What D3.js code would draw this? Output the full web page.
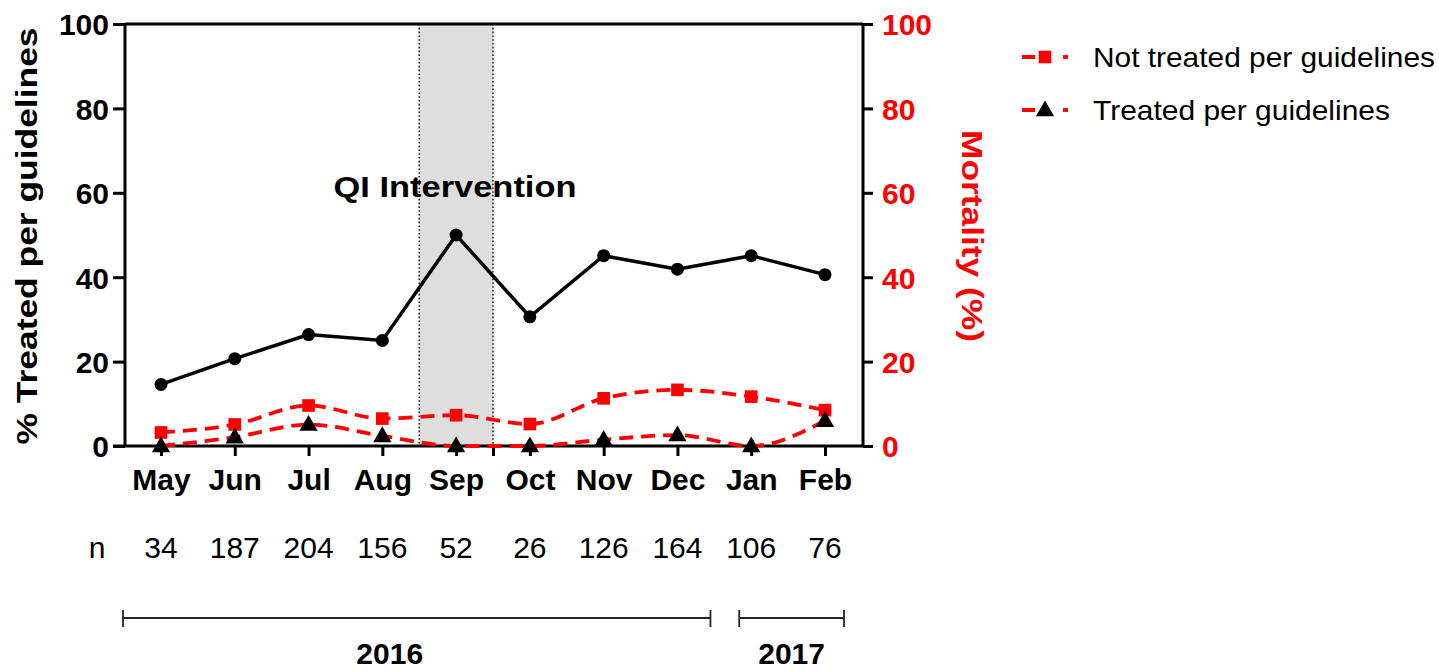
<!DOCTYPE html>
<html><head><meta charset="utf-8">
<script src="https://cdn.jsdelivr.net/npm/d3@7"></script>
<style>body{margin:0;background:#fff}svg{display:block}</style>
</head><body>
<svg id="c" width="1439" height="672"></svg>
<script>
const months = ["May","Jun","Jul","Aug","Sep","Oct","Nov","Dec","Jan","Feb"];
const nCounts = [34,187,204,156,52,26,126,164,106,76];
const treatedPct = [14.6,20.7,26.4,25.0,50.0,30.6,45.1,41.9,45.1,40.6];
const mortNotTreated = [3.2,5.1,9.6,6.5,7.3,5.2,11.3,13.3,11.7,8.5];
const mortTreated = [0,2.1,5.1,2.4,0,0,1.5,2.6,0,6.0];
const yTicks = [0,20,40,60,80,100];
const years = [{label:"2016",from:0,to:7},{label:"2017",from:8,to:9}];
const interventionSpan = [3.5,4.5];
const seriesNames = ["Not treated per guidelines","Treated per guidelines"];

const RED = "#f00";
const svg = d3.select("#c");
const L = 125, R = 863, T = 24, B = 446;
const x = d3.scaleLinear().domain([0,9]).range([161,825]);
const yL = d3.scaleLinear().domain([0,100]).range([B,T]);
const yR = d3.scaleLinear().domain([0,100]).range([B,T]);
const boldFont = "'Liberation Sans', Arial, Helvetica, sans-serif";

// shaded intervention
svg.append("rect").attr("x",x(interventionSpan[0])).attr("y",T)
  .attr("width",x(interventionSpan[1])-x(interventionSpan[0])).attr("height",B-T)
  .attr("fill","#dedede");
interventionSpan.forEach(v=>{
  svg.append("line").attr("x1",x(v)).attr("x2",x(v)).attr("y1",T).attr("y2",B)
    .attr("stroke","#222").attr("stroke-width",1.6).attr("stroke-dasharray","1.6,2.2");
});

// QI label
svg.append("text").attr("x",455).attr("y",197).attr("text-anchor","middle")
  .attr("font-family",boldFont).attr("font-weight","bold").attr("font-size",30)
  .attr("textLength",243).attr("lengthAdjust","spacingAndGlyphs")
  .text("QI Intervention");

// frame top
svg.append("line").attr("x1",L).attr("x2",R).attr("y1",T).attr("y2",T)
  .attr("stroke","#000").attr("stroke-width",3);

// left axis
const gL = svg.append("g").attr("transform",`translate(${L},0)`)
  .call(d3.axisLeft(yL).tickValues(yTicks).tickSize(12).tickPadding(4).tickFormat(d3.format("d")));
gL.select(".domain").attr("stroke-width",3).attr("d",`M0,${B}V${T}`);
gL.selectAll(".tick line").attr("stroke-width",3);
gL.selectAll(".tick text").attr("font-family",boldFont).attr("font-weight","bold")
  .attr("font-size",30).attr("fill","#000").attr("dy","0.36em");

// right axis
const gR = svg.append("g").attr("transform",`translate(${R},0)`)
  .call(d3.axisRight(yR).tickValues(yTicks).tickSize(10).tickPadding(9).tickFormat(d3.format("d")));
gR.select(".domain").attr("stroke-width",3).attr("d",`M0,${B}V${T}`);
gR.selectAll(".tick line").attr("stroke-width",3);
gR.selectAll(".tick text").attr("font-family",boldFont).attr("font-weight","bold")
  .attr("font-size",30).attr("fill",RED).attr("dy","0.36em");

// bottom axis
const xTickVals = d3.range(months.length).concat([interventionSpan[1]]);
const gB = svg.append("g").attr("transform",`translate(0,${B})`)
  .call(d3.axisBottom(x).tickValues(xTickVals).tickSize(10).tickPadding(6)
    .tickFormat(d=>Number.isInteger(d)?months[d]:""));
gB.select(".domain").attr("stroke-width",3).attr("d",`M${L-12},0H${R}`);
gB.selectAll(".tick line").attr("stroke-width",3);
gB.selectAll(".tick text").attr("font-family",boldFont).attr("font-weight","bold")
  .attr("font-size",30).attr("fill","#000").attr("dy",0).attr("y",44);

// axis titles
svg.append("text").attr("transform","translate(37,236) rotate(-90)").attr("text-anchor","middle")
  .attr("font-family",boldFont).attr("font-weight","bold").attr("font-size",30)
  .attr("textLength",417).attr("lengthAdjust","spacingAndGlyphs")
  .text("%  Treated per guidelines");
svg.append("text").attr("transform","translate(962,236) rotate(90)").attr("text-anchor","middle")
  .attr("font-family",boldFont).attr("font-weight","bold").attr("font-size",30).attr("fill",RED)
  .attr("textLength",212).attr("lengthAdjust","spacingAndGlyphs")
  .text("Mortality (%)");

// red dashed curves
const line = (ys,sc,curve)=>d3.line().x((d,i)=>x(i)).y(d=>sc(d)).curve(curve)(ys);
svg.append("path").attr("d",line(mortNotTreated,yR,d3.curveMonotoneX))
  .attr("fill","none").attr("stroke",RED).attr("stroke-width",3.8).attr("stroke-dasharray","14,8");
svg.append("path").attr("d",line(mortTreated,yR,d3.curveMonotoneX))
  .attr("fill","none").attr("stroke",RED).attr("stroke-width",3.8).attr("stroke-dasharray","14,8");

// black line
svg.append("path").attr("d",line(treatedPct,yL,d3.curveLinear))
  .attr("fill","none").attr("stroke","#000").attr("stroke-width",3.5);
svg.selectAll(".dot").data(treatedPct).join("circle")
  .attr("cx",(d,i)=>x(i)).attr("cy",d=>yL(d)).attr("r",6.5).attr("fill","#000");

// markers
const sq = d3.symbol().type(d3.symbolSquare).size(160);
const tri = d3.symbol().type(d3.symbolTriangle).size(145);
svg.selectAll(".sq").data(mortNotTreated).join("path")
  .attr("d",sq).attr("transform",(d,i)=>`translate(${x(i)},${yR(d)})`).attr("fill",RED);
svg.selectAll(".tri").data(mortTreated).join("path")
  .attr("d",tri).attr("transform",(d,i)=>`translate(${x(i)},${yR(d)+1})`).attr("fill","#000");

// n row
const nFont = "'Liberation Sans Narrow', 'Arial Narrow', 'Liberation Sans', Arial, sans-serif";
svg.append("text").attr("x",97).attr("y",558).attr("text-anchor","middle")
  .attr("font-family",nFont).attr("font-size",30).text("n");
svg.selectAll(".n").data(nCounts).join("text")
  .attr("x",(d,i)=>x(i)).attr("y",558).attr("text-anchor","middle")
  .attr("font-family",nFont).attr("font-size",30).text(d=>d);

// year brackets
const bx0 = i=> i===0 ? x(i)-38 : x(i)-12;
const bx1 = i=> i===9 ? x(i)+19 : x(i)+33;
years.forEach(yr=>{
  const a = bx0(yr.from), b = bx1(yr.to);
  const g = svg.append("g").attr("stroke","#222").attr("stroke-width",1.8);
  g.append("line").attr("x1",a).attr("x2",b).attr("y1",618).attr("y2",618);
  g.append("line").attr("x1",a).attr("x2",a).attr("y1",610).attr("y2",627);
  g.append("line").attr("x1",b).attr("x2",b).attr("y1",610).attr("y2",627);
  svg.append("text").attr("x",(a+b)/2 - (yr.label==="2016"?27:0)).attr("y",664).attr("text-anchor","middle")
    .attr("font-family",boldFont).attr("font-weight","bold").attr("font-size",30).text(yr.label);
});

// legend
const legY = [57,110];
seriesNames.forEach((name,k)=>{
  const gy = legY[k];
  svg.append("line").attr("x1",1022).attr("x2",1070).attr("y1",gy).attr("y2",gy)
    .attr("stroke",RED).attr("stroke-width",3.8).attr("stroke-dasharray","13,8,4,100");
  svg.append("line").attr("x1",1063).attr("x2",1068).attr("y1",gy).attr("y2",gy)
    .attr("stroke",RED).attr("stroke-width",3.8);
  svg.append("path").attr("d",k===0?sq:tri).attr("transform",`translate(1045,${gy+(k?1:0)})`)
    .attr("fill",k===0?RED:"#000");
  svg.append("text").attr("x",1093).attr("y",gy+10).attr("font-family",boldFont)
    .attr("font-size",28).attr("lengthAdjust","spacingAndGlyphs")
    .attr("textLength",k===0?342:297).text(name);
});
</script>
</body></html>
